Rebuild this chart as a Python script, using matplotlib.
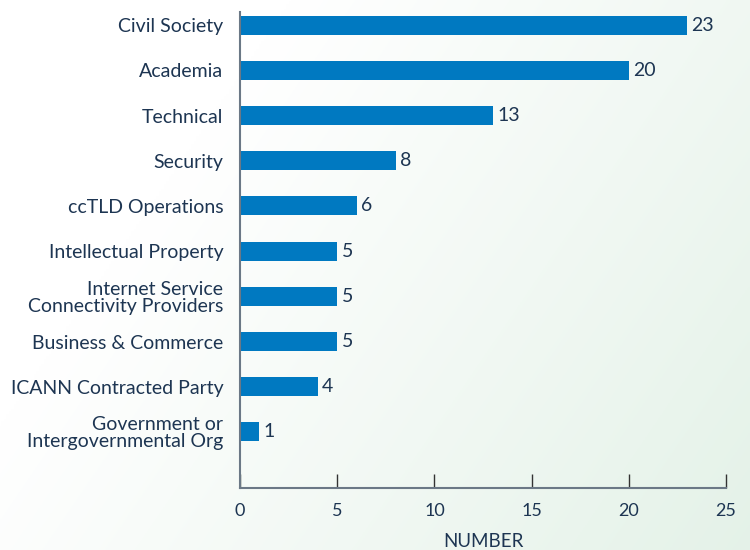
import numpy as np
import matplotlib.pyplot as plt

categories = ['Civil Society', 'Academia', 'Technical', 'Security', 'ccTLD Operations',
              'Intellectual Property', 'Internet Service\nConnectivity Providers',
              'Business & Commerce', 'ICANN Contracted Party',
              'Government or\nIntergovernmental Org']
values = [23, 20, 13, 8, 6, 5, 5, 5, 4, 1]
xticks = [0, 5, 10, 15, 20, 25]

text_color = '#1d3552'
bar_color = '#0079c1'
axis_color = '#6b7886'

plt.rcParams['font.family'] = ['Lato', 'DejaVu Sans']

fig = plt.figure(figsize=(7.5, 5.5), dpi=100)

# background gradient: white at left/top, pale green toward bottom-right
bg = fig.add_axes([0, 0, 1, 1], zorder=0)
gx, gy = np.meshgrid(np.linspace(0, 1, 300), np.linspace(0, 1, 220))
t = np.clip((gx * 0.9 + gy * 0.45 - 0.35) / 1.0, 0, 1)
white = np.array([1.0, 1.0, 1.0])
green = np.array([0.895, 0.948, 0.91])
img = white[None, None, :] * (1 - t[..., None]) + green[None, None, :] * t[..., None]
bg.imshow(img, aspect='auto', extent=[0, 1, 0, 1], origin='upper')
bg.axis('off')

ax = fig.add_axes([240 / 750, 62 / 550, 486 / 750, 476 / 550], zorder=1)
ax.patch.set_alpha(0)

y = np.arange(len(categories))
ax.barh(y, values, height=0.42, color=bar_color)
for yi, v in zip(y, values):
    ax.text(v + 0.22, yi, str(v), va='center', ha='left', fontsize=14, color=text_color)

ax.set_ylim(10.24, -0.29)
ax.set_xlim(0, 25)
ax.set_yticks(y)
ax.set_yticklabels(categories, fontsize=14, color=text_color, linespacing=1.0)
ax.tick_params(axis='y', length=0, pad=12)
ax.set_xticks(xticks)
ax.set_xticklabels([str(v) for v in xticks], fontsize=13, color=text_color)
ax.tick_params(axis='x', direction='in', length=10, width=1, color='#333333', pad=11)
ax.set_xlabel('NUMBER', fontsize=13.5, color=text_color, labelpad=10)

for s in ['top', 'right']:
    ax.spines[s].set_visible(False)
for s in ['left', 'bottom']:
    ax.spines[s].set_color(axis_color)
    ax.spines[s].set_linewidth(1.5)

fig.savefig('out.png', dpi=100)
